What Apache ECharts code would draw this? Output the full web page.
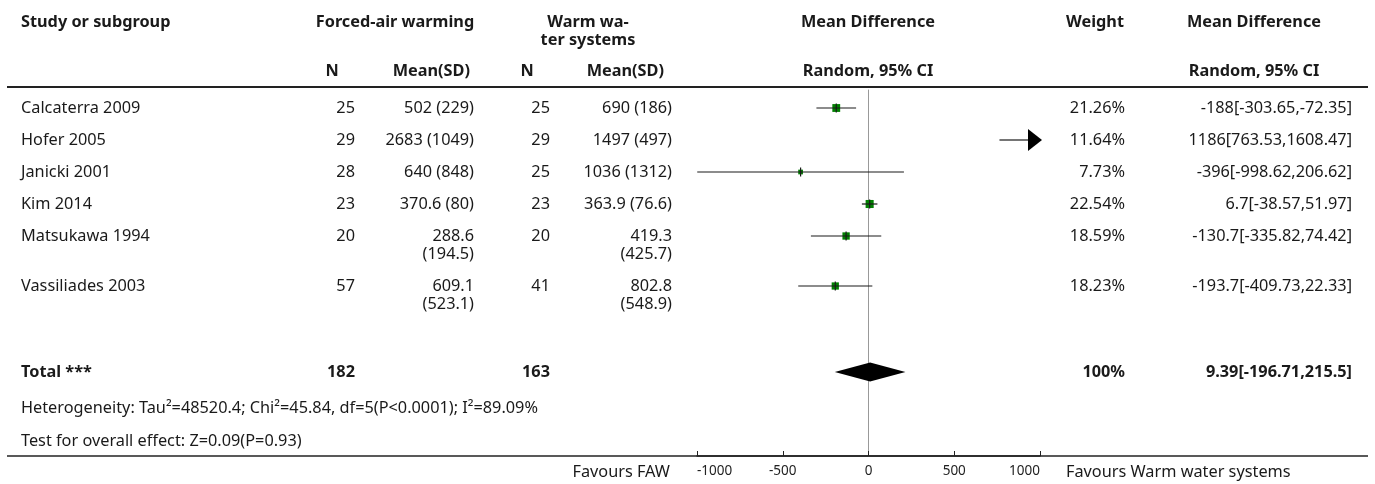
<!DOCTYPE html>
<html>
	<head>
		<meta charset="utf-8" />
		<title>Forest plot</title>
		<script src="https://cdn.jsdelivr.net/npm/echarts/dist/echarts.min.js"></script>
		<style type="text/css">
			html,body{margin:0;padding:0;background:#fff;}
			#main{width:1375px;height:484px;}
		</style>
	</head>
	<body>
		<div id="main"></div>
		<script type="text/javascript">
			// data
			var studies = ['Calcaterra 2009', 'Hofer 2005', 'Janicki 2001', 'Kim 2014', 'Matsukawa 1994', 'Vassiliades 2003'];
			var fawN = [25, 29, 28, 23, 20, 57];
			var fawMean = ['502', '2683', '640', '370.6', '288.6', '609.1'];
			var fawSD = ['229', '1049', '848', '80', '194.5', '523.1'];
			var warmN = [25, 29, 25, 23, 20, 41];
			var warmMean = ['690', '1497', '1036', '363.9', '419.3', '802.8'];
			var warmSD = ['186', '497', '1312', '76.6', '425.7', '548.9'];
			var md = [-188, 1186, -396, 6.7, -130.7, -193.7];
			var ciLow = [-303.65, 763.53, -998.62, -38.57, -335.82, -409.73];
			var ciHigh = [-72.35, 1608.47, 206.62, 51.97, 74.42, 22.33];
			var weights = ['21.26', '11.64', '7.73', '22.54', '18.59', '18.23'];
			var totalN = [182, 163];
			var totalMD = [9.39, -196.71, 215.5];
			var xTicks = [-1000, -500, 0, 500, 1000];
			var heterogeneity = 'Heterogeneity: Tau\u00b2=48520.4; Chi\u00b2=45.84, df=5(P<0.0001); I\u00b2=89.09%';
			var overall = 'Test for overall effect: Z=0.09(P=0.93)';

			// layout
			var FONT = '"Noto Sans", sans-serif';
			var FS = 16.3;
			var TOP = 90, BOTTOM = 456;
			var ROW_STEP = 32, WRAP = 18;
			function isWrapped(i){
				return Math.max((fawMean[i]+' ('+fawSD[i]+')').length, (warmMean[i]+' ('+warmSD[i]+')').length) > 12
			}
			var rowY = [];
			var yy = 18;
			for (var i = 0; i < studies.length; i++) {
				rowY.push(yy);
				yy += ROW_STEP + (isWrapped(i) ? WRAP : 0);
			}
			var totalY = 282, hetY = 318, overallY = 351;

			var g = [];
			function txt(s, x, y, align, bold, size){
				g.push({type:'text', silent:true, style:{text:s, x:x, y:y, align:align||'left', verticalAlign:'middle',
					fontFamily:FONT, fontSize:size||FS, fontWeight:bold?'bold':'normal', fill:'#1a1a1a'}})
			}
			function hline(y, w){
				g.push({type:'line', silent:true, shape:{x1:7, y1:y, x2:1368, y2:y}, style:{stroke:'#222', lineWidth:w}})
			}
			// header
			txt('Study or subgroup', 21, 22, 'left', true);
			txt('Forced-air warming', 395, 22, 'center', true);
			txt('Warm wa-', 588, 22, 'center', true);
			txt('ter systems', 588, 40, 'center', true);
			txt('Mean Difference', 868, 22, 'center', true);
			txt('Weight', 1095, 22, 'center', true);
			txt('Mean Difference', 1254, 22, 'center', true);
			txt('N', 332, 71, 'center', true);
			txt('Mean(SD)', 470, 71, 'right', true);
			txt('N', 527, 71, 'center', true);
			txt('Mean(SD)', 664, 71, 'right', true);
			txt('Random, 95% CI', 868, 71, 'center', true);
			txt('Random, 95% CI', 1254, 71, 'center', true);
			hline(87, 2);
			// study rows
			for (var i = 0; i < studies.length; i++) {
				var y = TOP + rowY[i];
				txt(studies[i], 21, y);
				txt(String(fawN[i]), 355, y, 'right');
				txt(String(warmN[i]), 550, y, 'right');
				if (isWrapped(i)) {
					txt(fawMean[i], 474, y, 'right');
					txt('('+fawSD[i]+')', 474, y+WRAP, 'right');
					txt(warmMean[i], 672, y, 'right');
					txt('('+warmSD[i]+')', 672, y+WRAP, 'right');
				} else {
					txt(fawMean[i]+' ('+fawSD[i]+')', 474, y, 'right');
					txt(warmMean[i]+' ('+warmSD[i]+')', 672, y, 'right');
				}
				txt(weights[i]+'%', 1125, y, 'right');
				txt(md[i]+'['+ciLow[i]+','+ciHigh[i]+']', 1352, y, 'right');
			}
			// total + notes
			txt('Total ***', 21, TOP+totalY, 'left', true);
			txt(String(totalN[0]), 355, TOP+totalY, 'right', true);
			txt(String(totalN[1]), 550, TOP+totalY, 'right', true);
			txt('100%', 1125, TOP+totalY, 'right', true);
			txt(totalMD[0]+'['+totalMD[1]+','+totalMD[2]+']', 1352, TOP+totalY, 'right', true);
			txt(heterogeneity, 21, TOP+hetY);
			txt(overall, 21, TOP+overallY);
			hline(BOTTOM, 1.5);
			txt('Favours FAW', 670, 472, 'right');
			txt('Favours Warm water systems', 1066, 472, 'left');

			// CI lines, squares, arrows
			function renderStudy(params, api){
				var y = api.coord([0, api.value(1)])[1];
				var lo = api.value(2), hi = api.value(3), m = api.value(4), w = api.value(5);
				var xMin = api.coord([-1000, 0])[0], xMax = api.coord([1000, 0])[0];
				var x1 = Math.max(api.coord([lo, 0])[0], xMin);
				var x2 = Math.min(api.coord([hi, 0])[0], xMax);
				var kids = [];
				var lineStyle = {stroke:'#1a1a1a', lineWidth:1.2};
				if (hi > 1000) {
					kids.push({type:'line', shape:{x1:x1, y1:y, x2:xMax-12, y2:y}, style:lineStyle});
					kids.push({type:'polygon', shape:{points:[[xMax-12, y-11], [xMax+2, y], [xMax-12, y+11]]}, style:{fill:'#000'}});
				} else {
					var s = 1.7*Math.sqrt(w);
					var xm = api.coord([m, 0])[0];
					kids.push({type:'rect', shape:{x:xm-s/2, y:y-s/2, width:s, height:s}, style:{fill:'#008000'}});
					kids.push({type:'line', shape:{x1:x1, y1:y, x2:x2, y2:y}, style:lineStyle});
					kids.push({type:'line', shape:{x1:xm, y1:y-4.5, x2:xm, y2:y+4.5}, style:lineStyle});
				}
				return {type:'group', children:kids};
			}
			function renderTotal(params, api){
				var p = function(v, dy){ var c = api.coord([v, api.value(1)]); return [c[0], c[1]+dy]; };
				return {type:'polygon', shape:{points:[p(api.value(2), 0), p(api.value(0), -9.5), p(api.value(3), 0), p(api.value(0), 9.5)]},
					style:{fill:'#000'}};
			}

			var studyData = [];
			for (var i = 0; i < studies.length; i++) {
				studyData.push([i, rowY[i], ciLow[i], ciHigh[i], md[i], parseFloat(weights[i])]);
			}

			var myChart = echarts.init(document.getElementById('main'));
			var option = {
				animation: false,
				grid: {left: 697, right: 335, top: TOP, bottom: 484-BOTTOM},
				xAxis: {
					type: 'value', min: -1000, max: 1000, interval: 500,
					axisLine: {show: true, onZero: false, lineStyle: {color: '#222', width: 1.5}},
					axisTick: {show: true, inside: true, length: 5, lineStyle: {color: '#222'}},
					splitLine: {show: false},
					axisLabel: {fontFamily: FONT, fontSize: 13.5, color: '#222', margin: 8,
						alignMinLabel: 'left', alignMaxLabel: 'right',
						customValues: xTicks,
						formatter: function(v){ return String(v) }}
				},
				yAxis: {
					type: 'value', min: 0, max: BOTTOM-TOP, inverse: true,
					axisLine: {show: true, onZero: true, lineStyle: {color: '#999', width: 1}},
					axisTick: {show: false}, axisLabel: {show: false}, splitLine: {show: false}
				},
				graphic: g,
				series: [{
					type: 'custom', renderItem: renderStudy, clip: false, z: 5,
					encode: {x: 4, y: 1},
					data: studyData
				}, {
					type: 'custom', renderItem: renderTotal, clip: false, z: 5,
					encode: {x: 0, y: 1},
					data: [[totalMD[0], totalY, totalMD[1], totalMD[2]]]
				}]
			};
			myChart.setOption(option);
		</script>
	</body>
</html>
